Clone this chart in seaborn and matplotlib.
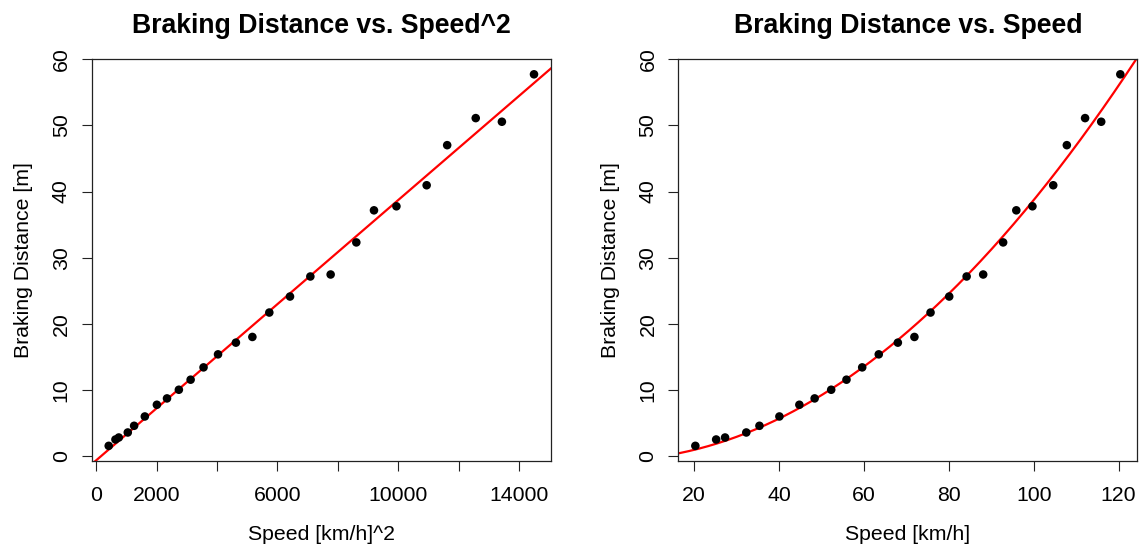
import numpy as np
import pandas as pd
import matplotlib
matplotlib.use("Agg")
import matplotlib.pyplot as plt
import seaborn as sns

# Measured speeds [km/h] and braking distances [m]
speed = [20.3, 25.2, 27.3, 32.3, 35.4, 40.1, 44.8, 48.4, 52.3, 55.9,
         59.6, 63.5, 68.0, 71.9, 75.7, 80.1, 84.2, 88.1, 92.8, 95.9,
         99.7, 104.6, 107.8, 112.1, 115.9, 120.4]
distance = [1.57, 2.53, 2.83, 3.59, 4.60, 6.01, 7.78, 8.74, 10.05, 11.57,
            13.43, 15.40, 17.17, 18.03, 21.72, 24.14, 27.17, 27.47, 32.32, 37.17,
            37.78, 40.96, 47.02, 51.11, 50.56, 57.73]

y_ticks = [0, 10, 20, 30, 40, 50, 60]
sq_ticks = [0, 2000, 4000, 6000, 8000, 10000, 12000, 14000]
sq_tick_labels = ["0", "2000", "", "6000", "", "10000", "", "14000"]
speed_ticks = [20, 40, 60, 80, 100, 120]

titles = ["Braking Distance vs. Speed^2", "Braking Distance vs. Speed"]
xlabels = ["Speed [km/h]^2", "Speed [km/h]"]
ylabel = "Braking Distance [m]"

sns.set_theme(style="white")
plt.rcParams["font.family"] = ["Liberation Sans", "DejaVu Sans"]
plt.rcParams["text.color"] = "black"
plt.rcParams["axes.labelcolor"] = "black"
plt.rcParams["xtick.color"] = "black"
plt.rcParams["ytick.color"] = "black"

df = pd.DataFrame({"speed": speed, "distance": distance})
df["speed_sq"] = df["speed"] ** 2

# Linear model: distance = a + b * speed^2
b, a = np.polyfit(df["speed_sq"], df["distance"], 1)


def padded(lo, hi, frac=0.04):
    r = hi - lo
    return lo - frac * r, hi + frac * r


fig = plt.figure(figsize=(11.42, 5.48), dpi=100)
ax1 = fig.add_axes([0.0803, 0.1593, 0.4022, 0.7325])
ax2 = fig.add_axes([0.5940, 0.1593, 0.4019, 0.7325])

ylim = padded(min(distance), max(distance))

# Left: distance against squared speed with fitted straight line
xlim1 = padded(df["speed_sq"].min(), df["speed_sq"].max())
sns.scatterplot(data=df, x="speed_sq", y="distance", ax=ax1, color="black",
                s=38, edgecolor="none", zorder=3)
xs1 = np.linspace(xlim1[0] - 500, xlim1[1] + 500, 200)
sns.lineplot(x=xs1, y=a + b * xs1, ax=ax1, color="red", linewidth=1.6,
             zorder=2, sort=False)
ax1.set_xlim(xlim1)
ax1.set_xticks(sq_ticks)
ax1.set_xticklabels(sq_tick_labels)

# Right: distance against speed with the same model as a parabola
xlim2 = padded(min(speed), max(speed))
sns.scatterplot(data=df, x="speed", y="distance", ax=ax2, color="black",
                s=38, edgecolor="none", zorder=3)
xs2 = np.linspace(xlim2[0] - 2, xlim2[1] + 2, 300)
sns.lineplot(x=xs2, y=a + b * xs2 ** 2, ax=ax2, color="red", linewidth=1.6,
             zorder=2, sort=False)
ax2.set_xlim(xlim2)
ax2.set_xticks(speed_ticks)

for ax, title, xlabel in zip([ax1, ax2], titles, xlabels):
    ax.set_ylim(ylim)
    ax.set_yticks(y_ticks)
    ax.set_title(title, fontsize=19.2, fontweight="bold", pad=19, color="black")
    ax.set_xlabel(xlabel, fontsize=15.3)
    ax.set_ylabel(ylabel, fontsize=15.3)
    ax.xaxis.set_label_coords(0.5, -0.16)
    ax.yaxis.set_label_coords(-0.128, 0.5)
    ax.tick_params(axis="both", which="both", direction="out", length=7,
                   width=0.8, color="#222222", labelsize=15.3,
                   bottom=True, left=True)
    ax.tick_params(axis="x", pad=11)
    ax.tick_params(axis="y", pad=8)
    for lbl in ax.get_yticklabels():
        lbl.set_rotation(90)
        lbl.set_va("center")
    for sp in ax.spines.values():
        sp.set_visible(True)
        sp.set_color("#222222")
        sp.set_linewidth(0.9)

fig.savefig("out.png", dpi=100, facecolor="white")
